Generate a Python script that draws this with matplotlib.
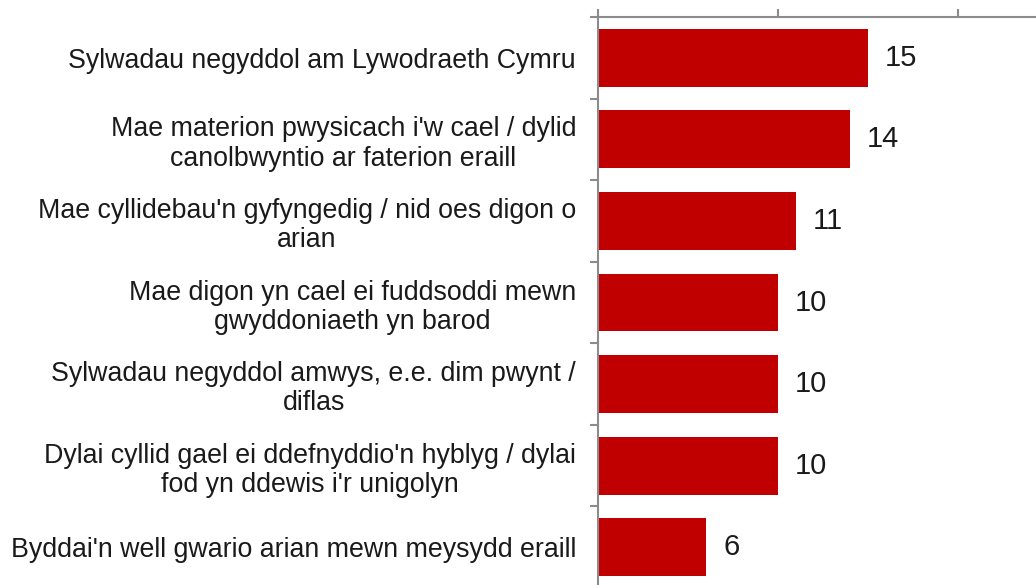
import matplotlib.pyplot as plt
import numpy as np

plt.rcParams['font.family'] = ['Liberation Sans', 'DejaVu Sans']

labels = [
    "Sylwadau negyddol am Lywodraeth Cymru",
    "Mae materion pwysicach i'w cael / dylid\ncanolbwyntio ar faterion eraill",
    "Mae cyllidebau'n gyfyngedig / nid oes digon o\narian",
    "Mae digon yn cael ei fuddsoddi mewn\ngwyddoniaeth yn barod",
    "Sylwadau negyddol amwys, e.e. dim pwynt /\ndiflas",
    "Dylai cyllid gael ei ddefnyddio'n hyblyg / dylai\nfod yn ddewis i'r unigolyn",
    "Byddai'n well gwario arian mewn meysydd eraill",
]
values = [15, 14, 11, 10, 10, 10, 6]

fig = plt.figure(figsize=(10.36, 5.85), dpi=100)
ax = fig.add_axes([598 / 1036, -3 / 585, 1 - 598 / 1036, 571 / 585])

y = np.arange(len(values))
ax.barh(y, values, height=0.71, color='#C00000')

for yi, v in zip(y, values):
    ax.text(v + 0.95, yi, str(v), va='center', ha='left', fontsize=21, color='#1a1a1a')

ax.set_xlim(0, (1036 - 598) / 18)
ax.set_ylim(len(values) - 0.5, -0.5)

# labels on the category centres, tick marks between categories
ax.set_yticks(y)
ax.set_yticklabels(labels, fontsize=19.3, color='#1a1a1a', linespacing=1.16, multialignment='center')
ax.tick_params(axis='y', which='major', length=0, pad=15.8)
ax.set_yticks(np.arange(-0.5, len(values) + 0.5, 1), minor=True)
ax.tick_params(axis='y', which='minor', length=6, width=1.5, color='#8c8c8c', direction='out')

ax.xaxis.set_ticks_position('top')
ax.set_xticks([0, 10, 20])
ax.tick_params(axis='x', length=6, width=1.5, color='#8c8c8c', direction='out', labeltop=False, labelbottom=False)

for s in ['right', 'bottom']:
    ax.spines[s].set_visible(False)
for s in ['top', 'left']:
    ax.spines[s].set_color('#8c8c8c')
    ax.spines[s].set_linewidth(1.5)

fig.savefig('out.png', dpi=100)
